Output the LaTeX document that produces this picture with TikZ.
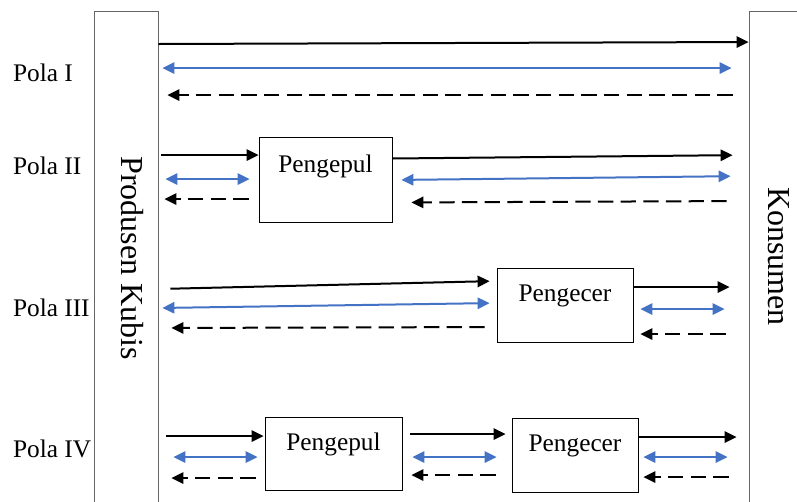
\documentclass[tikz,border=0pt]{standalone}
\usepackage{fontspec}
\setmainfont{Liberation Serif}
\usetikzlibrary{arrows.meta}
\definecolor{infoblue}{HTML}{4472C4}

\begin{document}
\begin{tikzpicture}
[x=0.75pt,y=-0.75pt,line width=1.5pt,%
  >={Triangle[length=9pt,width=8.5pt]},%
  every node/.style={font=\fontsize{19}{23}\selectfont,inner sep=0pt},%
  side/.style={draw=black!60,line width=0.6pt,minimum height=369.75pt},%
  sidetext/.style={rotate=-90,anchor=base,font=\fontsize{24}{28}\selectfont},%
  agent/.style={draw,line width=0.6pt,text height=13pt,text depth=17.75pt},%
  flow/.style={->},%
  info/.style={<->,infoblue},%
  pay/.style={->,dash pattern=on 11.5pt off 5.5pt}]
\clip (0,0) rectangle (797,501);
\node[side,minimum width=48pt] (prod) at (126,257.5) {};
\node[side,minimum width=51pt] (kons) at (783,257.5) {};
\node[sidetext] (prodtext) at (121.7,258.3) {Produsen Kubis};
\node[sidetext] (konstext) at (768.3,256.5) {Konsumen};
\node[anchor=base west] (pola1) at (12,81) {Pola I};
\node[anchor=base west] (pola2) at (12,174) {Pola II};
\node[anchor=base west] (pola3) at (12,316.5) {Pola III};
\node[anchor=base west] (pola4) at (12,457) {Pola IV};
\node[agent,text depth=24.25pt,minimum width=99.75pt,minimum height=63.75pt] (pp2) at (325.5,179.5) {Pengepul};
\node[agent,minimum width=102pt,minimum height=55.5pt] (pc3) at (565,305) {Pengecer};
\node[agent,minimum width=102.75pt,minimum height=54.75pt] (pp4) at (333.5,453.5) {Pengepul};
\node[agent,minimum width=94.5pt,minimum height=55.5pt] (pc4) at (575,455) {Pengecer};
% Pola I
\draw[flow] (prod.east |- 0,44) -- (kons.west |- 0,42);
\draw[info,shorten <=3pt,shorten >=12.75pt] (prod.east |- 0,68) -- (kons.west |- 0,68);
\draw[pay,shorten <=12pt,shorten >=6.75pt] (kons.west |- 0,95) -- (prod.east |- 0,95);
% Pola II
\draw[flow,shorten <=2.25pt] (prod.east |- 0,155) -- (pp2.west |- 0,155);
\draw[info,shorten <=5.25pt,shorten >=6.75pt] (prod.east |- 0,179) -- (pp2.west |- 0,179);
\draw[pay,shorten <=7.5pt,shorten >=4.5pt] (pp2.west |- 0,199) -- (prod.east |- 0,199);
\draw[flow,shorten >=12pt] (pp2.east |- 0,158.5) -- (kons.west |- 0,155);
\draw[info,shorten <=6.75pt,shorten >=13.5pt] (pp2.east |- 0,180) -- (kons.west |- 0,176);
\draw[pay,shorten <=16.5pt,shorten >=14.25pt] (kons.west |- 0,201) -- (pp2.east |- 0,202.5);
% Pola III
\draw[flow,shorten <=9pt,shorten >=5.25pt] (prod.east |- 0,289) -- (pc3.west |- 0,281);
\draw[info,shorten <=3pt,shorten >=5.25pt] (prod.east |- 0,308) -- (pc3.west |- 0,303);
\draw[pay,shorten <=9pt,shorten >=9.75pt] (pc3.west |- 0,327) -- (prod.east |- 0,328);
\draw[flow,shorten <=0.75pt,shorten >=14.25pt] (pc3.east |- 0,287) -- (kons.west |- 0,287);
\draw[info,shorten <=5.25pt,shorten >=18pt] (pc3.east |- 0,309) -- (kons.west |- 0,309);
\draw[pay,shorten <=17.25pt,shorten >=5.25pt] (kons.west |- 0,334) -- (pc3.east |- 0,334);
% Pola IV
\draw[flow,shorten <=6pt,shorten >=0.75pt] (prod.east |- 0,436) -- (pp4.west |- 0,436);
\draw[info,shorten <=11.25pt,shorten >=5.25pt] (prod.east |- 0,457) -- (pp4.west |- 0,457);
\draw[pay,shorten <=6.75pt,shorten >=9.75pt] (pp4.west |- 0,478) -- (prod.east |- 0,478);
\draw[flow,shorten <=6pt,shorten >=4.5pt] (pp4.east |- 0,434) -- (pc4.west |- 0,434);
\draw[info,shorten <=7.5pt,shorten >=11.25pt] (pp4.east |- 0,457) -- (pc4.west |- 0,457);
\draw[pay,shorten <=12pt,shorten >=6.75pt] (pc4.west |- 0,475) -- (pp4.east |- 0,475);
\draw[flow,shorten <=0.75pt,shorten >=9pt] (pc4.east |- 0,437) -- (kons.west |- 0,437);
\draw[info,shorten <=3.75pt,shorten >=15.75pt] (pc4.east |- 0,457) -- (kons.west |- 0,457);
\draw[pay,shorten <=15pt,shorten >=3.75pt] (kons.west |- 0,477) -- (pc4.east |- 0,477);
\end{tikzpicture}
\end{document}
